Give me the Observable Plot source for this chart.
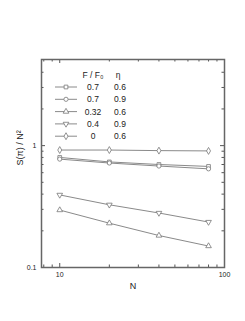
<!DOCTYPE html>
<html>
<head>
<meta charset="utf-8">
<script src="https://cdn.jsdelivr.net/npm/d3@7"></script>
<script src="https://cdn.jsdelivr.net/npm/@observablehq/plot@0.6"></script>
<style>
  html, body { margin: 0; padding: 0; background: #fff; }
  svg { display: block; }
</style>
</head>
<body>
<div id="chart"></div>
<script>
// ---- data ----
const N = [10, 20, 40, 80];
const ratioLabels = ["0.7", "0.7", "0.32", "0.4", "0"];
const etaLabels = ["0.6", "0.9", "0.6", "0.9", "0.6"];
const valSquare = [0.80, 0.735, 0.70, 0.675];
const valCircle = [0.775, 0.72, 0.68, 0.645];
const valTriUp = [0.296, 0.231, 0.183, 0.150];
const valTriDown = [0.394, 0.327, 0.280, 0.236];
const valDiamond = [0.92, 0.92, 0.91, 0.905];
const xMajor = [10, 100];
const xMinor = [8, 9, 20, 30, 40, 50, 60, 70, 80, 90];
const yMajor = [0.1, 1];
const yMinor = [0.2, 0.3, 0.4, 0.5, 0.6, 0.7, 0.8, 0.9, 2, 3, 4];

const triangleDown = {
  draw(ctx, size) {
    const y = -Math.sqrt(size / (Math.sqrt(3) * 3));
    ctx.moveTo(0, -y * 2);
    ctx.lineTo(-Math.sqrt(3) * y, y);
    ctx.lineTo(Math.sqrt(3) * y, y);
    ctx.closePath();
  }
};

const seriesValues = [valSquare, valCircle, valTriUp, valTriDown, valDiamond];
const seriesSymbols = ["square", "circle", "triangle", triangleDown, "diamond"];
const series = seriesValues.map((vals, i) => ({
  symbol: seriesSymbols[i],
  ratio: ratioLabels[i],
  eta: etaLabels[i],
  points: N.map((n, j) => ({N: n, S: vals[j]}))
}));

const W = 245, H = 321;
const mL = 41, mR = 21, mT = 59, mB = 54;
const fw = W - mL - mR, fh = H - mT - mB;
const lineColor = "#8a8a8a";
const markColor = "#777";
const font = "Liberation Sans, Arial, sans-serif";
const R = 2.1;

function legendMark() {
  const g = d3.create("svg:g")
    .attr("font-family", font)
    .attr("font-size", 8.5)
    .attr("fill", "#222");
  const x0 = mL + 14, x1 = mL + 36, xc = (x0 + x1) / 2;
  const colR = mL + 52, colE = mL + 79;
  g.append("text").attr("x", colR).attr("y", mT + 16).attr("dy", "0.35em")
    .attr("text-anchor", "middle").text("F / F\u2080");
  g.append("text").attr("x", colE - 2).attr("y", mT + 16).attr("dy", "0.35em")
    .attr("text-anchor", "middle").text("\u03b7");
  series.forEach((s, i) => {
    const y = mT + 28 + i * 12.3;
    g.append("line").attr("x1", x0).attr("x2", x1).attr("y1", y).attr("y2", y)
      .attr("stroke", lineColor).attr("stroke-width", 1);
    const d3sym = s.symbol === "square" ? d3.symbolSquare
      : s.symbol === "circle" ? d3.symbolCircle
      : s.symbol === "triangle" ? d3.symbolTriangle
      : s.symbol === "diamond" ? d3.symbolDiamond
      : s.symbol;
    g.append("path").attr("transform", `translate(${xc},${y})`)
      .attr("d", d3.symbol(d3sym, Math.PI * R * R)())
      .attr("fill", "white").attr("stroke", markColor).attr("stroke-width", 0.8);
    g.append("text").attr("x", colR).attr("y", y).attr("dy", "0.35em")
      .attr("text-anchor", "middle").text(s.ratio);
    g.append("text").attr("x", colE).attr("y", y).attr("dy", "0.35em")
      .attr("text-anchor", "middle").text(s.eta);
  });
  return g.node();
}

const marks = [];
// lines and dots
series.forEach(s => {
  marks.push(Plot.line(s.points, {x: "N", y: "S", stroke: lineColor, strokeWidth: 1}));
  marks.push(Plot.dot(s.points, {x: "N", y: "S", symbol: s.symbol, r: R, fill: "white", stroke: markColor, strokeWidth: 0.8}));
});
// inner ticks (all four sides)
const tk = {stroke: "#555", strokeWidth: 1};
marks.push(Plot.tickX(xMajor, {x: d => d, insetTop: fh - 4, ...tk}));
marks.push(Plot.tickX(xMajor, {x: d => d, insetBottom: fh - 4, ...tk}));
marks.push(Plot.tickX(xMinor, {x: d => d, insetTop: fh - 2.5, ...tk}));
marks.push(Plot.tickX(xMinor, {x: d => d, insetBottom: fh - 2.5, ...tk}));
marks.push(Plot.tickY(yMajor, {y: d => d, insetRight: fw - 4, ...tk}));
marks.push(Plot.tickY(yMajor, {y: d => d, insetLeft: fw - 4, ...tk}));
marks.push(Plot.tickY(yMinor, {y: d => d, insetRight: fw - 2.5, ...tk}));
marks.push(Plot.tickY(yMinor, {y: d => d, insetLeft: fw - 2.5, ...tk}));
// frame
marks.push(Plot.frame({stroke: "#666", strokeWidth: 1.5}));
// tick labels
marks.push(Plot.axisX(xMajor, {tickSize: 0, tickPadding: 5, tickFormat: d => String(d), fontSize: 7, label: null}));
marks.push(Plot.axisY(yMajor, {tickSize: 0, tickPadding: 5, tickFormat: d => String(d), fontSize: 7, label: null}));
// axis titles
marks.push(Plot.text(["N"], {frameAnchor: "bottom", dy: 21, text: d => d, fontSize: 9, fill: "#222"}));
marks.push(Plot.text(["S(\u03c0) / N\u00b2"], {frameAnchor: "left", dx: -21, dy: 2, rotate: -90, text: d => d, fontSize: 9, fill: "#222"}));
// legend
marks.push(legendMark);

const chart = Plot.plot({
  width: W,
  height: H,
  marginLeft: mL,
  marginRight: mR,
  marginTop: mT,
  marginBottom: mB,
  style: {fontFamily: font, background: "white", color: "#222"},
  x: {type: "log", domain: [7.75, 100], axis: null},
  y: {type: "log", domain: [0.1, 5.09], axis: null},
  marks
});
document.getElementById("chart").appendChild(chart);
</script>
</body>
</html>
